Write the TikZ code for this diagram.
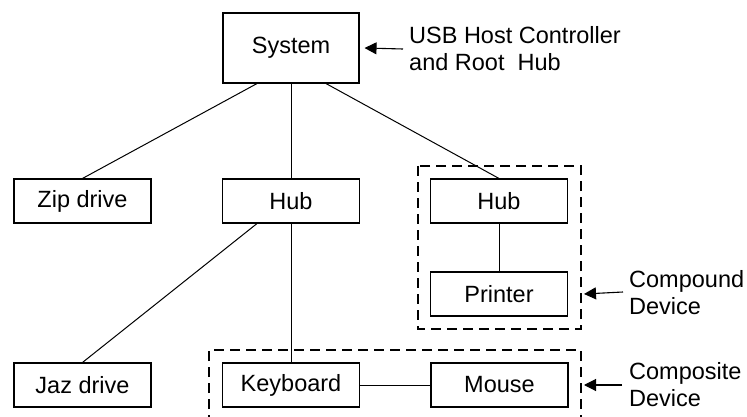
\documentclass[tikz,border=0pt]{standalone}
\usepackage{fontspec}
\setmainfont{Liberation Sans}
\usetikzlibrary{arrows.meta}
\begin{document}
\begin{tikzpicture}[x=1pt,y=-1pt,
  box/.style={draw,line width=1.1pt,minimum width=137pt,minimum height=44pt,inner sep=0pt,
    font=\fontsize{23.5}{27}\selectfont},
  conn/.style={line width=1pt},
  grp/.style={line width=1.1pt,dash pattern=on 10pt off 6pt},
  lbl/.style={anchor=west,align=left,inner sep=0pt,font=\fontsize{23.5}{27}\selectfont},
  pointer/.style={line width=1.1pt,-{Triangle[length=12pt,width=12pt]}}]
\useasboundingbox (0,0) rectangle (747,417);
\node[box,minimum height=70pt,minimum width=136pt] (sys) at (291,48) {System};
\node[box] (zip) at (82.5,201) {Zip drive};
\node[box] (hubA) at (291,201) {Hub};
\node[box] (hubB) at (499,201) {Hub};
\node[box] (prn) at (499,294) {Printer};
\node[box] (jaz) at (82.5,385) {Jaz drive};
\node[box] (kbd) at (291,385) {Keyboard};
\node[box] (mouse) at (499.5,385) {Mouse};
\draw[conn] ([xshift=-34pt]sys.south) -- (zip.north);
\draw[conn] (sys.south) -- (hubA.north);
\draw[conn] ([xshift=35pt]sys.south) -- (hubB.north);
\draw[conn] ([xshift=-34pt]hubA.south) -- (jaz.north);
\draw[conn] (hubA.south) -- (kbd.north);
\draw[conn] (hubB.south) -- (prn.north);
\draw[conn] (kbd.east) -- (mouse.west);
\coordinate (cpTL) at (418,166);
\coordinate (cpBR) at (581,329);
\draw[grp] (cpTL) rectangle (cpBR);
\coordinate (csBL) at (209,425);
\coordinate (csTL) at (209,350);
\coordinate (csTR) at (581,350);
\coordinate (csBR) at (581,425);
\draw[grp] (csBL) -- (csTL) -- (csTR) -- (csBR);
\node[lbl] (usb) at (409,49) {USB Host Controller\\and Root\ \ Hub};
\node[lbl] (cpd) at (629,293) {Compound\\Device};
\node[lbl] (csd) at (629,385) {Composite\\Device};
\coordinate (cpArrow) at (584,294);
\coordinate (csArrow) at (584,385);
\draw[pointer] ([xshift=-6pt]usb.west) -- ([xshift=5pt]sys.east);
\draw[pointer] ([xshift=-6pt,yshift=1pt]cpd.west) -- (cpArrow);
\draw[pointer] ([xshift=-7pt]csd.west) -- (csArrow);
\end{tikzpicture}
\end{document}
